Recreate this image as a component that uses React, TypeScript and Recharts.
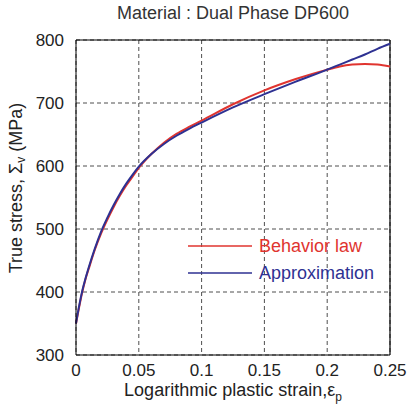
import React from 'react';
import {
  LineChart,
  Line,
  XAxis,
  YAxis,
  CartesianGrid,
  Legend,
  ReferenceLine,
} from 'recharts';

// strain values shared by both curves
const strain = [
  0, 0.0025, 0.005, 0.0075, 0.01, 0.015, 0.02, 0.025, 0.03, 0.035, 0.04, 0.045, 0.05,
  0.06, 0.07, 0.08, 0.09, 0.1, 0.125, 0.15, 0.175, 0.2, 0.21, 0.22, 0.23, 0.24, 0.25,
];
const behaviorLaw = [
  350, 376, 400, 420, 436, 467, 493, 515, 535, 553, 569, 583, 597,
  619, 637, 651, 662, 672, 698, 720, 738, 753, 758, 761, 762, 761, 758,
];
const approximation = [
  350, 378, 402, 421, 438, 469, 496, 518, 538, 556, 572, 586, 599,
  619, 635, 648, 659, 669, 693, 714, 734, 753, 761, 769, 777, 786, 794,
];
const xTicks = [0, 0.05, 0.1, 0.15, 0.2, 0.25];
const yTicks = [300, 400, 500, 600, 700, 800];

const data = strain.map((s, i) => ({
  strain: s,
  behavior: behaviorLaw[i],
  approx: approximation[i],
}));

const RED = '#e0342f';
const BLUE = '#2e3192';
const FONT = 'Liberation Sans, Arial, sans-serif';

const LegendBox = () => (
  <svg width={220} height={50} style={{ display: 'block' }}>
    <line x1={8} y1={14} x2={72} y2={14} stroke={RED} strokeWidth={1.3} />
    <text x={79} y={20} fill={RED} fontSize={18} fontFamily={FONT}>
      Behavior law
    </text>
    <line x1={8} y1={41} x2={72} y2={41} stroke={BLUE} strokeWidth={1.3} />
    <text x={79} y={47} fill={BLUE} fontSize={18} fontFamily={FONT}>
      Approximation
    </text>
  </svg>
);

const YLabel = () => {
  const cx = 16;
  const cy = 188;
  return (
    <text
      x={cx}
      y={cy}
      transform={`rotate(-90 ${cx} ${cy})`}
      textAnchor="middle"
      dominantBaseline="central"
      fontSize={18}
      fill="#222"
      fontFamily={FONT}
    >
      True stress, Σ
      <tspan fontSize={12} dy={5}>v</tspan>
      <tspan dy={-5}> (MPa)</tspan>
    </text>
  );
};

const XLabel = ({ viewBox }: any) => {
  const cx = viewBox.x + viewBox.width / 2;
  return (
    <text x={cx} y={396} textAnchor="middle" fontSize={18} fill="#222" fontFamily={FONT}>
      Logarithmic plastic strain,ε
      <tspan fontSize={12} dy={5}>p</tspan>
    </text>
  );
};

export default function App() {
  return (
    <div style={{ position: 'absolute', left: 0, top: 0, width: 408, height: 410, background: '#fff' }}>
      <div
        style={{
          position: 'absolute',
          top: 3,
          left: 76,
          width: 314,
          textAlign: 'center',
          fontFamily: FONT,
          fontSize: 18,
          color: '#333',
        }}
      >
        Material : Dual Phase DP600
      </div>
      <LineChart
        width={408}
        height={410}
        data={data}
        margin={{ top: 40, right: 18, bottom: 25, left: 36 }}
      >
        <CartesianGrid stroke="#222" strokeDasharray="4 3" strokeWidth={0.8} />
        <XAxis
          dataKey="strain"
          type="number"
          domain={[0, 0.25]}
          ticks={xTicks}
          height={30}
          stroke="#000"
          tickLine={false}
          tickMargin={3}
          tick={{ fill: '#222', fontSize: 17, fontFamily: FONT }}
          label={<XLabel />}
        />
        <YAxis
          type="number"
          domain={[300, 800]}
          ticks={yTicks}
          width={40}
          stroke="#000"
          tickLine={false}
          tickMargin={6}
          tick={{ fill: '#222', fontSize: 17, fontFamily: FONT }}
          label={<YLabel />}
        />
        <ReferenceLine y={800} stroke="#000" strokeWidth={1.2} />
        <ReferenceLine x={0.25} stroke="#000" strokeWidth={1.2} />
        <Legend
          layout="vertical"
          align="center"
          verticalAlign="middle"
          wrapperStyle={{ left: 180, top: 232, width: 220 }}
          content={() => <LegendBox />}
        />
        <Line
          type="monotone"
          dataKey="behavior"
          stroke={RED}
          strokeWidth={2}
          dot={false}
          isAnimationActive={false}
        />
        <Line
          type="monotone"
          dataKey="approx"
          stroke={BLUE}
          strokeWidth={2}
          dot={false}
          isAnimationActive={false}
        />
      </LineChart>
    </div>
  );
}
